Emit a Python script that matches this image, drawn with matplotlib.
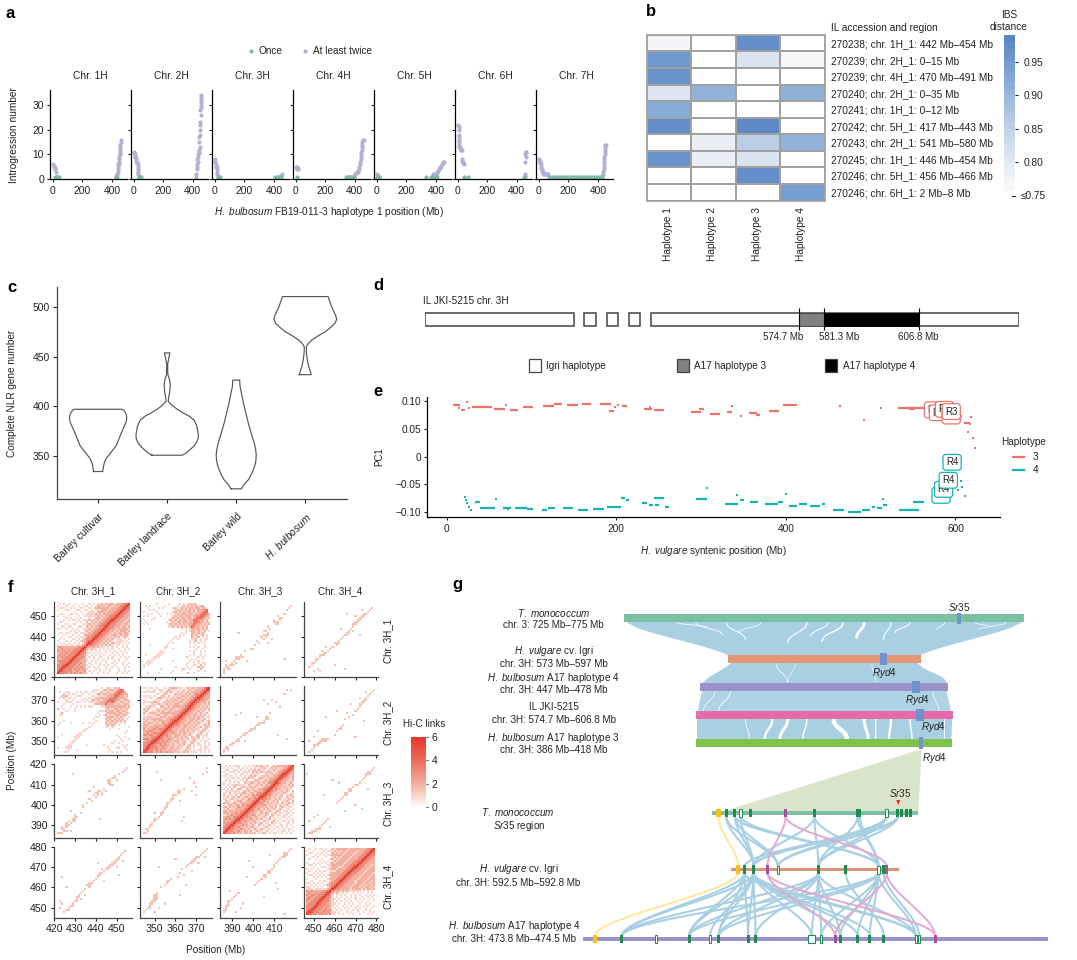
import numpy as np
import matplotlib
matplotlib.use('Agg')
import matplotlib.pyplot as plt
from matplotlib.colors import LinearSegmentedColormap, BoundaryNorm, Normalize
from matplotlib.path import Path
from matplotlib.patches import PathPatch, Rectangle, Polygon
from matplotlib.cm import ScalarMappable

plt.rcParams['font.family'] = ['Liberation Sans', 'DejaVu Sans']
plt.rcParams['mathtext.fontset'] = 'custom'
plt.rcParams['mathtext.rm'] = 'Liberation Sans'
plt.rcParams['mathtext.it'] = 'Liberation Sans:italic'
plt.rcParams['mathtext.bf'] = 'Liberation Sans:bold'
plt.rcParams['font.size'] = 7
plt.rcParams['axes.linewidth'] = 0.9

W, H = 1077, 960

# ---- panel a: (position Mb, introgression number)
chroms_a = ['Chr. 1H', 'Chr. 2H', 'Chr. 3H', 'Chr. 4H', 'Chr. 5H', 'Chr. 6H', 'Chr. 7H']
once_a = [
    [(17, 1), (22, 1), (27, 1), (32, 1), (38, 1), (44, 1), (425, 1), (432, 1)],
    [(35, 1), (40, 1), (45, 1), (48, 1)],
    [(20, 1), (25, 1), (30, 1), (35, 1), (410, 1), (418, 1), (425, 1), (432, 1), (440, 1), (447, 1)],
    [(12, 1), (340, 1), (348, 1), (355, 1), (362, 1), (370, 1), (378, 1), (385, 1), (392, 1)],
    [(3, 1), (8, 1), (12, 1), (15, 1), (335, 1), (365, 1), (375, 1), (385, 1), (395, 1), (405, 1)],
    [(45, 1), (70, 1), (452, 1)],
    [(70, 1), (82, 1), (94, 1), (106, 1), (118, 1), (130, 1), (142, 1), (154, 1), (166, 1), (178, 1), (190, 1),
     (202, 1), (214, 1), (226, 1), (238, 1), (250, 1), (262, 1), (274, 1), (286, 1), (298, 1), (310, 1), (322, 1),
     (334, 1), (346, 1), (358, 1), (370, 1), (382, 1), (394, 1), (406, 1), (418, 1), (428, 1)],
]
twice_a = [
    [(5, 6), (8, 5.5), (12, 5), (15, 4.5), (18, 4), (20, 3), (430, 1.5), (435, 2), (438, 3), (440, 4), (442, 5),
     (443, 6), (445, 6), (448, 7), (450, 8), (450, 9), (452, 10), (455, 10), (455, 11), (456, 12), (458, 13),
     (458, 14), (460, 15), (462, 16)],
    [(3, 11), (5, 10.5), (8, 10), (10, 9.5), (12, 9), (15, 8.5), (18, 8), (20, 7.5), (22, 7), (25, 6.5), (27, 6),
     (28, 5), (30, 4), (32, 3), (33, 2), (420, 1), (424, 2), (428, 4), (430, 5), (432, 6), (434, 7), (432, 8),
     (436, 9), (438, 10), (440, 10.5), (442, 11), (445, 12), (447, 13), (445, 15), (445, 17), (447, 18), (448, 20),
     (450, 22), (452, 23), (455, 26), (452, 28), (453, 29), (455, 30), (455, 31), (455, 32), (458, 33), (458, 34)],
    [(3, 8), (5, 7), (7, 6), (10, 5), (14, 5), (15, 4), (17, 3), (18, 2), (450, 1.5), (455, 2)],
    [(5, 5), (8, 4.5), (10, 4), (12, 5), (15, 4.5), (18, 4), (395, 1.5), (400, 2), (405, 2), (410, 2.5), (415, 3),
     (420, 3), (425, 3.5), (430, 4), (432, 5), (435, 6), (437, 7), (440, 8), (442, 9), (443, 10), (445, 11),
     (447, 12), (448, 13), (450, 14), (450, 15), (455, 16), (460, 16)],
    [(3, 2), (5, 1.5), (380, 2), (390, 2), (400, 2), (405, 2.5), (410, 3), (415, 3.5), (420, 4), (425, 4.5),
     (430, 5), (435, 5.5), (440, 6), (445, 6.5), (450, 7), (455, 7)],
    [(5, 22), (6, 21), (7, 20), (8, 18), (7, 17), (9, 16), (10, 15), (10, 14), (12, 13), (15, 13), (18, 12.5),
     (22, 12), (25, 12), (30, 12), (32, 8), (33, 7.5), (35, 7), (37, 6.5), (40, 6), (455, 1), (456, 1.5), (458, 2),
     (458, 7), (458, 10), (460, 9), (460, 11), (462, 11)],
    [(3, 8), (5, 7.5), (8, 7), (10, 6.5), (12, 6), (15, 5), (18, 4.5), (20, 4), (22, 3.5), (25, 3), (27, 2.5),
     (30, 2), (35, 2), (40, 2), (45, 2), (50, 2), (55, 2), (60, 2), (430, 1.5), (435, 2), (437, 3), (438, 4),
     (440, 5), (440, 6), (441, 7), (442, 8), (443, 9), (444, 10), (445, 11), (446, 12), (447, 13), (450, 14), (455, 14)],
]

# ---- panel b
ibs_labels = ['270238; chr. 1H_1: 442 Mb–454 Mb', '270239; chr. 2H_1: 0–15 Mb', '270239; chr. 4H_1: 470 Mb–491 Mb',
              '270240; chr. 2H_1: 0–35 Mb', '270241; chr. 1H_1: 0–12 Mb', '270242; chr. 5H_1: 417 Mb–443 Mb',
              '270243; chr. 2H_1: 541 Mb–580 Mb', '270245; chr. 1H_1: 446 Mb–454 Mb',
              '270246; chr. 5H_1: 456 Mb–466 Mb', '270246; chr. 6H_1: 2 Mb–8 Mb']
ibs_haps = ['Haplotype 1', 'Haplotype 2', 'Haplotype 3', 'Haplotype 4']
ibs_values = [[0.755, 0.70, 0.975, 0.70],
              [0.955, 0.70, 0.80, 0.751],
              [0.965, 0.70, 0.70, 0.70],
              [0.795, 0.905, 0.70, 0.91],
              [0.92, 0.70, 0.70, 0.70],
              [0.975, 0.70, 0.985, 0.70],
              [0.70, 0.77, 0.85, 0.905],
              [0.965, 0.77, 0.80, 0.70],
              [0.70, 0.70, 0.975, 0.70],
              [0.70, 0.70, 0.70, 0.945]]

# ---- panel c: (complete NLR number, half width in category units)
violin_names = ['Barley cultivar', 'Barley landrace', 'Barley wild', r'$\mathit{H.\ bulbosum}$']
violin_a = [(334, .068), (336, .07), (340, .08), (344, .095), (347, .115), (351, .16), (355, .205), (360, .26), (365, .29),
            (372, .33), (376, .355), (380, .38), (384, .405), (388, .415), (391, .41), (394, .39), (396, .37), (397, .345)]
violin_b = [(350.5, .22), (352, .26), (356, .33), (360, .39), (364, .43), (368, .45), (372, .45), (376, .44), (380, .43),
            (386, .39), (390, .32), (393, .24), (397, .145), (401, .07), (405, .015), (408, .02), (414, .035), (422, .045),
            (428, .03), (432, .01), (442, .006), (449, .024), (454, .04)]
violin_c = [(316.5, .075), (320, .105), (326, .18), (332, .225), (339, .265), (345, .285), (351, .29), (357, .28), (363, .26),
            (372, .22), (383, .175), (393, .14), (403, .105), (412, .08), (420, .055), (426.5, .05)]
violin_d = [(432, .087), (436, .07), (440, .05), (446, .032), (452, .02), (456, .015), (460.4, .015), (464, .05), (467, .095),
            (471, .18), (475.5, .29), (480, .37), (484, .43), (488, .455), (492, .44), (495.6, .415), (501, .38), (507, .35), (511, .33)]

# ---- panel d: Mb coordinates of the bar
igri_blocks = [(474.3, 514.2), (517.1, 520.1), (523.1, 526.1), (529.1, 532.1), (535.1, 633.8)]
hap_marks = [574.7, 581.3, 606.8]

# ---- panel e: (start Mb, end Mb, PC1)
seg_hap3 = [(7, 16, .093), (30, 53, .0886), (56, 69, .085), (75, 84, .084), (90, 102, .09), (113, 126, .0916), (126, 136, .0946),
            (142, 155, .092), (159, 170, .094), (181, 194, .094), (191, 197, .0826), (207, 213, .091), (233, 242, .085),
            (244, 256, .0844), (288, 300, .08), (298, 303, .086), (311, 322, .076), (330, 337, .081), (357, 366, .079),
            (365, 370, .074), (380, 392, .0826), (397, 413, .0934), (532, 566, .0874), (545, 552, .085), (595, 608, .073), (610, 617, .06)]
dots_hap3 = [(14, .087), (18, .084), (20, .083), (24, .0976), (26, .087), (70, .092), (347, .073), (336, .091), (240, .09),
             (202, .093), (199, .09), (464, .091), (492, .065), (512, .088), (618, .072), (617, .058), (615, .045),
             (620.6, .0335), (623, .015)]
seg_hap4 = [(33, 39, -.0815), (39, 57, -.092), (66, 76, -.092), (81, 95, -.092), (95, 102, -.0935), (112, 118, -.096), (119, 128, -.092),
            (137, 149, -.093), (155, 166, -.096), (173, 186, -.0935), (189, 205, -.09), (206, 210, -.075), (211, 215, -.078),
            (230, 236, -.083), (239, 243, -.087), (246, 250, -.087), (244, 256, -.074), (257, 262, -.09), (294, 307, -.0755),
            (328, 344, -.0856), (346, 351, -.078), (358, 367, -.081), (375, 391, -.0844), (391, 396, -.082), (404, 413, -.0886),
            (416, 425, -.085), (428, 440, -.088), (442, 446, -.086), (455, 469, -.096), (473, 489, -.099), (490, 499, -.096),
            (501, 505, -.09), (507, 513, -.093), (515, 519, -.087), (533, 557, -.095), (550, 563, -.081)]
dots_hap4 = [(21, -.072), (23, -.078), (24, -.084), (26, -.09), (28, -.095), (58, -.076), (72, -.094), (342, -.069), (307, -.057),
             (400, -.068), (514, -.076), (611, -.07), (608, -.054), (603, -.06), (606, -.044), (600, -.048), (574, -.075)]
r3_labels = [(574, .084), (580, .079), (587, .085), (595, .073), (595, .081)]
r4_labels = [(583, -.0695), (586, -.0587), (591.5, -.0425), (596, -.0102)]

# ---- panel f: triangular rows of the diagonal panels, bottom row first, each starts on the diagonal
hic_chr = ['Chr. 3H_1', 'Chr. 3H_2', 'Chr. 3H_3', 'Chr. 3H_4']
hic_start = [421.5, 344.5, 385.5, 446.5]
hic_bins = [35, 32, 34, 33]
hic_11 = ["64333232322322101001001010001001010", "6433332232223010100101001000100101", "643332323232100010100101000100100",
          "64333232322010101000100101000101", "6433323222101000101010010001010", "643332322010010100100101001001",
          "64333222101010010100010100100", "6433322100101001010100100010", "643332010100110010100010101",
          "64332101010101001010101000", "6433110101010100101001010", "643101010100101010010100",
          "64212110101010100100101", "6322212111010101001010", "6433221212121011010101", "643322121202111101010",
          "64332212121011110101", "6433221212011101010", "643322121212012101", "64332212221212211", "6433221212212212",
          "643322121222122", "64332212222212", "6433222122122", "643322212212", "64332221222", "6433222122", "643322212",
          "64332221", "6433222", "643322", "64332", "6433", "643", "64"]
hic_22 = ["64333232322322212112120111010101", "6433232322122121101211010110101", "643332232212212110121010010110",
          "64322323221211212012010110101", "6433323221212112101210100101", "643232322122112101121010110",
          "64332232212121120121101001", "6432322122121210211201010", "643322122212112101210110", "64322321212212110121010",
          "6433221222121120112101", "643222122121212101210", "64322212212121120121", "6433212221212101212",
          "643222122121210112", "64322212212112012", "6432212221211201", "643222121212011", "64322122121201", "6432212121120",
          "643221212101", "64322121212", "6432212121", "643221212", "64322212", "6433221", "643222", "64322", "6432", "643", "65", "6"]
hic_33 = ["6433232221221212011210101100101010", "643322321221201211011010010110101", "64332232212112102101101001010110",
          "6432322121221110121010110101001", "643223221121021101201001101010", "64332221212112011021101001101",
          "6432322122110211012010110101", "643222321212011201101001011", "64332212211210211010110100",
          "6432232121121021011011010", "643222112122011201101101", "64332212111210121011010", "6432231212112102101101",
          "643222121121201210110", "64322321211202112101", "6433212121120211211", "642322112120112102", "64332211212011211",
          "6432212112102112", "643321211201121", "64322121121011", "6432211212102", "642322112110", "64322121121",
          "6432211212", "643221121", "64322112", "6432212", "643212", "64322", "6432", "643", "64", "6"]
hic_44 = ["643332332323110101001010010001010", "64333233232110100010100100100101", "6433323323101010010010100010100",
          "643332322010100101001010010010", "64333232101001010100100101001", "6433322110100101010010010100",
          "643332101010010100101001001", "64332110100101001010100101", "6433101010010101001001010",
          "643101010100101010010101", "64212101010010101001010", "6322212121111110101010", "643322222122221212212",
          "64332222122212122121", "6433222212221212212", "643322221222122122", "64332221222212212", "6433222122221222",
          "643322212222122", "64332221222212", "6433222122221", "643322212222", "64332221222", "6433222122", "643322212",
          "64332222", "6433222", "643322", "64332", "6433", "643", "64", "6"]
# panel (1, 2): rows bottom to top, one digit per Mb, '.' is empty
hic_12 = ["..1....1.....1.......2..1.......", "..............1...1.......1..1..", "........1.........12..1....2....",
          "1..............1.....1.1..212...", "1.1.................1...11.2.1..", ".111.................1..1.1.11..",
          "..111.........1.......1.1.1.....", "....11.................1.1..1...", ".....111............11....1.1...",
          ".1....111.............1.1..1.1..", ".......111..............1..1....", "........11............1.1..1.1..",
          "..........1...1..........1..1...", "..........11..........1.1.1..1..", "...1.......1.............1...1..",
          "............1.1.......1.1.1.1...", ".............1........1.12.1.1..", "..............1.1......112.1.11.",
          "...............1.1.....2112.1.1.", ".................1.1...212112.1.", "..................1.1..2212121..",
          "....................1.12212112.1", "...1..............1.1.122221212.", "............1121212121243221212",
          "1.1.........12121212122243221212", ".1.........1.1212212212234322121", "1...1.......1212121221224432212",
          ".....1.......1212122122123443212", "1.1.....1.....121221222122344321", "..1.1..1...1.1.12122212212234432",
          "1.....1.......12121212212122344", "...1.1.........1212121212122234", "..1....1.1....12.1212122122122",
          ".1.1......1.....1.12121212122", "......1.....1....1.1.12121"]
# sparse panels: (x Mb, y Mb), mirrored for the panel across the diagonal
hic_13 = [(386, 423), (387, 426), (388, 425), (389, 426), (390, 427), (391, 426), (392, 429), (393, 429), (393, 430), (394, 431),
          (395, 430), (387, 428), (386, 421), (397, 428), (399, 434), (400, 434), (401, 436), (403, 437), (405, 439), (406, 440),
          (407, 441), (406, 443), (408, 444), (405, 443), (404, 440), (407, 445), (402, 438), (411, 446), (412, 447), (413, 448),
          (414, 449), (412, 450), (415, 451), (416, 453), (417, 454), (418, 455), (410, 448), (393, 442), (415, 429), (407, 437),
          (409, 439), (392, 427), (389, 424), (396, 433), (410, 447), (388, 424), (390, 426), (392, 430), (394, 430), (406, 441),
          (405, 441), (407, 442), (411, 447), (412, 446), (413, 449), (386, 424), (387, 425), (391, 428)]
hic_14 = [(448, 425), (449, 426), (450, 427), (451, 428), (452, 429), (453, 430), (454, 431), (455, 431), (456, 432), (457, 433),
          (450, 423), (452, 424), (454, 433), (458, 434), (459, 435), (460, 437), (461, 436), (462, 438), (463, 439), (464, 440),
          (465, 441), (466, 441), (467, 442), (468, 444), (469, 445), (470, 446), (471, 447), (472, 448), (473, 449), (474, 450),
          (475, 451), (476, 452), (477, 453), (478, 454), (466, 451), (470, 450), (472, 441), (460, 426), (465, 424), (456, 435),
          (463, 444), (473, 453), (469, 443), (453, 423), (449, 427), (451, 429), (453, 431), (455, 432), (462, 437), (461, 437),
          (467, 443), (466, 442), (471, 448), (472, 449), (473, 450), (474, 451), (470, 447), (469, 446)]
hic_23 = [(385, 345), (386, 346), (387, 347), (388, 346), (389, 348), (390, 349), (391, 349), (392, 350), (393, 351), (394, 352),
          (395, 353), (396, 353), (397, 354), (398, 355), (399, 355), (400, 356), (401, 357), (402, 358), (403, 358), (404, 359),
          (405, 360), (406, 361), (407, 362), (408, 364), (392, 363), (394, 364), (407, 368), (409, 370), (411, 369), (413, 367),
          (415, 373), (416, 375), (418, 375), (405, 370), (412, 353), (416, 351), (396, 350), (402, 362), (386, 345), (388, 347),
          (390, 348), (393, 350), (396, 354), (399, 356), (401, 356), (403, 359), (405, 359), (406, 362), (407, 361)]
hic_24 = [(448, 345), (449, 346), (450, 347), (451, 348), (452, 349), (453, 349), (454, 350), (455, 350), (456, 351), (457, 351),
          (450, 352), (452, 355), (448, 350), (460, 353), (461, 355), (462, 356), (463, 357), (464, 358), (465, 361), (467, 362),
          (469, 363), (470, 365), (471, 366), (472, 367), (473, 368), (474, 369), (475, 370), (476, 372), (477, 373), (478, 374),
          (479, 375), (475, 374), (466, 364), (461, 365), (456, 362), (470, 352), (474, 360), (468, 368), (472, 371), (453, 350),
          (454, 351), (455, 351), (456, 350), (452, 348), (450, 348), (472, 368), (473, 369), (474, 370), (475, 371), (463, 356)]
hic_34 = [(448, 385), (449, 386), (450, 387), (451, 387), (452, 388), (453, 389), (454, 390), (455, 391), (456, 392), (457, 393),
          (448, 392), (450, 394), (452, 395), (458, 389), (461, 401), (462, 402), (463, 403), (464, 404), (465, 405), (466, 406),
          (467, 407), (468, 408), (469, 409), (470, 410), (471, 410), (472, 411), (473, 412), (474, 413), (475, 414), (476, 415),
          (477, 416), (478, 417), (479, 418), (447, 415), (462, 411), (455, 405), (470, 400), (473, 398), (465, 397), (459, 412), (476, 408),
          (449, 387), (451, 388), (453, 388), (465, 406), (466, 405), (467, 408), (468, 407), (476, 416), (477, 415), (475, 415)]

# ---- panel g, link pairs read from the schematic (gene positions along each bar)
top_genes = [724, 746, 786, 947, 1056, 1062, 1158, 1168, 1181, 1189]
top_hollow = [760, 1129]
top_purple = [874]
mid_genes = [770, 793, 957, 1026, 1122]
mid_hollow = [855, 1109]
mid_purple = [828, 1130]
low_genes = [460, 630, 705, 779, 798, 1012, 1056, 1087, 1122]
low_hollow = [547, 683, 964, 1203, 1212]
low_purple = [999, 1252]
links_top = [(724, 793), (746, 793), (760, 793), (746, 855), (724, 855), (760, 1109), (746, 1109), (947, 793), (947, 957), (947, 1109),
             (1056, 957), (1062, 1109), (1056, 1109), (1129, 793), (1129, 957), (1158, 770), (1158, 793), (1158, 957), (1158, 855), (1129, 855)]
links_low = [(770, 460), (793, 460), (957, 460), (1109, 460), (770, 630), (793, 630), (957, 630), (1109, 630), (770, 705), (793, 705),
             (957, 705), (1109, 705), (793, 683), (793, 779), (770, 779), (793, 798), (957, 798), (793, 940), (793, 1012), (793, 1056),
             (793, 1087), (793, 1203), (770, 1203), (957, 964), (957, 940), (957, 1203), (957, 1012), (1026, 1122), (1109, 1012),
             (1109, 1056), (1109, 1087), (1109, 1203), (1109, 964), (1122, 1212)]
pink_top = [(874, 1130), (874, 828)]
pink_low = [(828, 1252), (828, 999), (1130, 999), (1130, 1252)]

fig = plt.figure(figsize=(W / 100, H / 100), dpi=100)


def ax_px(x0, y0, x1, y1, **kw):
    return fig.add_axes([x0 / W, 1 - y1 / H, (x1 - x0) / W, (y1 - y0) / H], **kw)


over = fig.add_axes([0, 0, 1, 1], zorder=5)
over.set_xlim(0, W)
over.set_ylim(H, 0)
over.axis('off')
over.patch.set_alpha(0)


def put(x, y, s, ha='center', va='center', **kw):
    kw.setdefault('color', '#222222')
    return over.text(x, y, s, ha=ha, va=va, **kw)


def style(ax, tick=2.5, size=7.4):
    ax.spines['top'].set_visible(False)
    ax.spines['right'].set_visible(False)
    ax.tick_params(length=tick, width=0.8, pad=2, labelsize=size, colors='#222222')


for letter, x, y in [('a', 10, 13), ('b', 651, 12), ('c', 12, 287), ('d', 378, 285), ('e', 378, 391), ('f', 10, 587), ('g', 457, 585)]:
    put(x, y, letter, fontsize=12, fontweight='bold', color='black')

# panel a
once_color = '#7DBBAD'
twice_color = '#B4B0D2'
spine_a = [50.2, 131, 212.2, 293, 374.3, 455.1, 536.3]
for i, name in enumerate(chroms_a):
    ax = ax_px(spine_a[i], 90, spine_a[i] + 76.5, 179.3)
    ax.scatter(*zip(*twice_a[i]), s=9, color=twice_color, linewidths=0, clip_on=False)
    ax.scatter(*zip(*once_a[i]), s=9, color=once_color, linewidths=0, clip_on=False)
    ax.set_xlim(-17, 500)
    ax.set_ylim(0, 36)
    ax.set_xticks([0, 200, 400])
    ax.set_yticks([0, 10, 20, 30])
    style(ax)
    if i > 0:
        ax.set_yticklabels([])
    put(spine_a[i] + 40, 76.3, name, fontsize=7.4)
put(14.3, 135, 'Introgression number', rotation=90, fontsize=7.3)
put(329.4, 212, r'$\mathit{H.\ bulbosum}$ FB19-011-3 haplotype 1 position (Mb)', fontsize=7.2)
over.scatter([251], [50.7], s=9, color=once_color, linewidths=0)
over.scatter([304.5], [50.7], s=9, color=twice_color, linewidths=0)
put(258.8, 50.7, 'Once', ha='left', fontsize=7.2)
put(313, 50.7, 'At least twice', ha='left', fontsize=7.2)

# panel b
ibs_cmap = LinearSegmentedColormap.from_list('ibs', ['#F6F7F9', '#C8D8EA', '#8EB1DA', '#5A86C5'])
ibs_cmap.set_under('white')
ibs_norm = Normalize(0.75, 0.99)
ax = ax_px(646.7, 34.7, 825, 200.7)
ax.pcolormesh(np.array(ibs_values), cmap=ibs_cmap, norm=ibs_norm, edgecolors='#A0A0A0', linewidth=1.2)
ax.set_ylim(10, 0)
ax.set_xlim(0, 4)
ax.set_xticks([])
ax.set_yticks([])
for s in ax.spines.values():
    s.set_color('#A0A0A0')
    s.set_linewidth(1.2)
for i, lab in enumerate(ibs_labels):
    put(831, 44.3 + i * 16.5, lab, ha='left', fontsize=7.25)
for x, lab in zip([668.3, 712.3, 757, 801], ibs_haps):
    put(x, 207, lab, rotation=90, va='top', fontsize=7.25)
put(831, 28.3, 'IL accession and region', ha='left', fontsize=7.25)
put(1009, 14.7, 'IBS', fontsize=7.25)
put(1009, 26.7, 'distance', fontsize=7.25)
cax = ax_px(1004.3, 35, 1015, 190.7)
levels = [.7577, .77, .78, .79, .80, .81, .82, .83, .84, .85, .86, .87, .88, .89, .90, .91, .92, .93, .94, .95, .96, .97, .98, .99]
cb = fig.colorbar(ScalarMappable(norm=BoundaryNorm(levels, 256), cmap=ibs_cmap), cax=cax, ticks=[.80, .85, .90, .95],
                  spacing='proportional', drawedges=False)
cb.outline.set_visible(False)
cb.ax.minorticks_off()
cb.ax.set_yticks([.80, .85, .90, .95])
cb.ax.set_yticklabels(['0.80', '0.85', '0.90', '0.95'])
cb.ax.tick_params(length=2, width=0.8, pad=4, labelsize=7.25, colors='#222222')
over.plot([1012, 1015], [196, 196], color='#222222', lw=0.8)
put(1020.7, 196, '≤0.75', ha='left', fontsize=7.25)

# panel c
ax = ax_px(56.7, 286.7, 346.7, 499)
for pos, v in enumerate([violin_a, violin_b, violin_c, violin_d]):
    ys, hw = np.array(v).T
    xs = np.concatenate([pos - hw, (pos + hw)[::-1], [pos - hw[0]]])
    yy = np.concatenate([ys, ys[::-1], [ys[0]]])
    ax.plot(xs, yy, color='#555555', lw=0.85)
ax.set_xlim(-0.6, 3.6)
ax.set_ylim(306.2, 521)
ax.set_yticks([350, 400, 450, 500])
ax.set_xticks(range(4))
ax.set_xticklabels(violin_names, rotation=45, ha='right', rotation_mode='anchor', fontsize=7.3)
style(ax, 3, 7.5)
ax.tick_params(axis='x', pad=6, labelsize=7.3)
ax.spines['left'].set_color('#444444')
ax.spines['bottom'].set_color('#444444')
put(12, 393, 'Complete NLR gene number', rotation=90, fontsize=7.2)

# panel d
ax = ax_px(424.9, 305, 1019.1, 335)
ax.set_xlim(igri_blocks[0][0], igri_blocks[-1][1])
ax.set_ylim(1, 0)
ax.axis('off')
for a, b in igri_blocks:
    ax.add_patch(Rectangle((a, 0.277), b - a, 0.413, fc='white', ec='#444444', lw=1.1))
ax.add_patch(Rectangle((hap_marks[0], 0.277), hap_marks[1] - hap_marks[0], 0.413, fc='#808080', ec='#444444', lw=0.6))
ax.add_patch(Rectangle((hap_marks[1], 0.277), hap_marks[2] - hap_marks[1], 0.413, fc='black', ec='black', lw=0.6))
ax.vlines(hap_marks, 0.1, 0.85, color='black', lw=0.8)
for x, lab in zip([783, 838.8, 917.8], ['574.7 Mb', '581.3 Mb', '606.8 Mb']):
    put(x, 337.3, lab, fontsize=7)
put(422.7, 300.7, 'IL JKI-5215 chr. 3H', ha='left', fontsize=7.2)
for x, c, lab in zip([528.9, 677, 825.4], ['white', '#808080', 'black'], ['Igri haplotype', 'A17 haplotype 3', 'A17 haplotype 4']):
    over.add_patch(Rectangle((x, 359), 11.6, 12.7, fc=c, ec='#444444', lw=0.9))
    put(x + 17.4, 365.7, lab, ha='left', fontsize=7.2)

# panel e
red = '#E8746C'
teal = '#16B3B3'
ax = ax_px(427.1, 397.3, 1000.4, 517.3)
for a, b, v in seg_hap3:
    ax.plot([a, b], [v, v], color=red, lw=1.6, solid_capstyle='butt')
for a, b, v in seg_hap4:
    ax.plot([a, b], [v, v], color=teal, lw=1.6, solid_capstyle='butt')
ax.scatter(*zip(*dots_hap3), s=2.8, color=red, marker='s', linewidths=0)
ax.scatter(*zip(*dots_hap4), s=2.8, color=teal, marker='s', linewidths=0)
for x, y in r3_labels:
    ax.text(x, y, 'R3', ha='center', va='center', fontsize=7, color='#222222', zorder=6,
            bbox=dict(boxstyle='round,pad=0.3', fc='white', ec=red, lw=0.9))
for x, y in r4_labels:
    ax.text(x, y, 'R4', ha='center', va='center', fontsize=7, color='#222222', zorder=6,
            bbox=dict(boxstyle='round,pad=0.3', fc='white', ec=teal, lw=0.9))
ax.set_xlim(-23.2, 653)
ax.set_ylim(-0.109, 0.1066)
ax.set_xticks([0, 200, 400, 600])
ax.set_yticks([-.10, -.05, 0, .05, .10])
ax.set_yticklabels(['−0.10', '−0.05', '0', '0.05', '0.10'])
style(ax, 2.5, 7.3)
put(379, 457, 'PC1', rotation=90, fontsize=7)
put(713, 551, r'$\mathit{H.\ vulgare}$ syntenic position (Mb)', fontsize=7.1)
put(1000.8, 441.7, 'Haplotype', ha='left', fontsize=7.2)
over.plot([1012.9, 1024], [456.7, 456.7], color=red, lw=1.6)
over.plot([1012.9, 1024], [470.3, 470.3], color=teal, lw=1.6)
put(1032.5, 456.7, '3', ha='left', fontsize=7.2)
put(1032.5, 470.3, '4', ha='left', fontsize=7.2)

# panel f
hic_cmap = LinearSegmentedColormap.from_list('hic', ['#FFFFFF', '#F9D5CB', '#F3B0A0', '#EE8D7B', '#EB6B5C', '#E9503F', '#E73530'])
col_px = [(54, 131.7), (140.3, 211.7), (220.3, 296), (304.3, 377.7)]
row_px = [(601.7, 677.3), (686, 755.3), (764.3, 837.7), (846.7, 917.7)]
col_lim = [(420, 457.2), (343.2, 377.3), (384.3, 420.5), (445.5, 480.6)]
row_lim = [(420, 457.2), (343.2, 377), (383.7, 420), (445, 480)]
col_ticks = [[420, 430, 440, 450], [350, 360, 370], [390, 400, 410], [450, 460, 470, 480]]
row_ticks = [[420, 430, 440, 450], [350, 360, 370], [390, 400, 410, 420], [450, 460, 470, 480]]
diag_rows = [hic_11, hic_22, hic_33, hic_44]
sparse = {(0, 2): hic_13, (0, 3): hic_14, (1, 2): hic_23, (1, 3): hic_24, (2, 3): hic_34}


def hic_matrix(r, c):
    m = np.zeros((hic_bins[r], hic_bins[c]))
    if r == c:
        for i, row in enumerate(diag_rows[r]):
            for k, ch in enumerate(row):
                if i + k < hic_bins[r]:
                    m[i, i + k] = m[i + k, i] = float(ch)
    elif (r, c) in [(0, 1), (1, 0)]:
        for i, row in enumerate(hic_12):
            for k, ch in enumerate(row[:hic_bins[1]]):
                if ch != '.':
                    if r == 0:
                        m[i, k] = float(ch)
                    else:
                        m[k, i] = float(ch)
    else:
        pts = sparse[(min(r, c), max(r, c))]
        for x, y in pts:
            if r > c:
                x, y = y, x
            m[int(y - hic_start[r]), int(x - hic_start[c])] = 1.5
    return m


for r in range(4):
    for c in range(4):
        ax = ax_px(col_px[c][0], row_px[r][0], col_px[c][1], row_px[r][1])
        xe = hic_start[c] + np.arange(hic_bins[c] + 1)
        ye = hic_start[r] + np.arange(hic_bins[r] + 1)
        ax.pcolormesh(xe, ye, hic_matrix(r, c), cmap=hic_cmap, vmin=0, vmax=6)
        ax.set_xlim(*col_lim[c])
        ax.set_ylim(*row_lim[r])
        ax.set_xticks(col_ticks[c])
        ax.set_yticks(row_ticks[r])
        style(ax, 2.5, 7.6)
        ax.spines['left'].set_color('#444444')
        ax.spines['bottom'].set_color('#444444')
        if r < 3:
            ax.set_xticklabels([])
        if c > 0:
            ax.set_yticklabels([])
for x, name in zip([93, 177.7, 260, 340], hic_chr):
    put(x, 590.7, name, fontsize=7.1)
for y, name in zip([640.7, 722.7, 804.3, 886.7], hic_chr):
    put(388, y, name, rotation=90, fontsize=7.1)
put(216, 949.7, 'Position (Mb)', fontsize=7.2)
put(11.7, 760, 'Position (Mb)', rotation=90, fontsize=7.2)
put(424, 724, 'Hi-C links', fontsize=7.1)
cax = ax_px(411, 737, 425.7, 807.3)
cb = fig.colorbar(ScalarMappable(norm=Normalize(0, 6), cmap=hic_cmap), cax=cax, ticks=[0, 2, 4, 6])
cb.outline.set_visible(False)
cb.ax.tick_params(length=1.5, width=0.6, pad=3, labelsize=7.4, colors='#222222')


# panel g
def gx(zx):
    return 470 + zx / 2.613


def sx(zx):
    return 440 + zx / 2.529


def ribbon(left, right, color):
    verts = left + right[::-1] + [left[0]]
    codes = [Path.MOVETO, Path.CURVE4, Path.CURVE4, Path.CURVE4, Path.LINETO, Path.CURVE4, Path.CURVE4, Path.CURVE4, Path.CLOSEPOLY]
    over.add_patch(PathPatch(Path(verts, codes), fc=color, ec='none', zorder=1))


def s_curve(x1, y1, x2, y2, color, lw, z=2, bend=0.5):
    h = (y2 - y1) * bend
    p = Path([(x1, y1), (x1, y1 + h), (x2, y2 - h), (x2, y2)], [Path.MOVETO, Path.CURVE4, Path.CURVE4, Path.CURVE4])
    over.add_patch(PathPatch(p, fc='none', ec=color, lw=lw, zorder=z, capstyle='butt'))


ribbon_c = '#A9CFE3'
ribbon([(627, 622), (640, 634), (700, 642), (730, 656)], [(1022, 622), (1005, 634), (950, 642), (918, 656)], ribbon_c)
ribbon([(732, 662), (725, 670), (708, 675), (702, 684)], [(917, 662), (925, 674), (944, 672), (947, 684)], ribbon_c)
ribbon([(703, 690), (700, 697), (699, 704), (698, 712)], [(946, 690), (948, 697), (950, 704), (951, 712)], '#AFD2E5')
ribbon([(697, 718), (697, 724), (697, 734), (697, 740)], [(952, 718), (952, 724), (952, 734), (951, 740)], ribbon_c)

white_streaks = [(540, 97, 620, 112, .5), (590, 97, 660, 135, .6), (670, 97, 720, 150, .7), (760, 97, 700, 130, .5), (880, 97, 830, 160, .8),
                 (935, 97, 890, 140, .7), (975, 97, 920, 155, 1), (1030, 97, 1010, 145, 2), (1100, 97, 1080, 150, .8), (1150, 97, 1110, 130, .7),
                 (1240, 97, 1220, 120, .6), (1320, 97, 1360, 112, .5), (1400, 97, 1330, 120, .5), (800, 219, 830, 279, .5), (850, 219, 830, 279, .4),
                 (1050, 219, 1060, 279, .4), (680, 303, 650, 364, .6), (640, 303, 610, 364, .5), (1210, 303, 1225, 364, .5),
                 (790, 387, 770, 448, 1.6), (830, 387, 810, 448, 2.2), (880, 387, 870, 448, 1), (950, 387, 985, 448, 3), (1030, 387, 1040, 448, 2.2),
                 (1100, 387, 1095, 448, 1.6), (1060, 387, 1060, 448, 1), (1150, 387, 1155, 448, 1), (720, 387, 730, 448, .6), (1240, 387, 1240, 448, .6)]
for x1, y1, x2, y2, lw in white_streaks:
    s_curve(gx(x1), 590 + y1 / 3, gx(x2), 590 + y2 / 3, 'white', lw)

for z0, z1, yt, yb, c in [(403, 1448, 614.3, 622.3, '#7CC0A4'), (673, 1178, 655, 663, '#E39873'), (600, 1250, 683, 691, '#9B93C8'),
                          (590, 1262, 711.3, 719, '#E56CA8'), (590, 1260, 739.3, 747, '#7DC24B')]:
    over.add_patch(Rectangle((gx(z0), yt), gx(z1) - gx(z0), yb - yt, fc=c, ec='none', zorder=3))
for z0, z1, yt, yb in [(1273, 1283, 612.7, 624), (1072, 1090, 653.3, 665), (1156, 1175, 681.3, 693),
                       (1166, 1185, 709.3, 721), (1172, 1184, 737.3, 749)]:
    over.add_patch(Rectangle((gx(z0), yt), gx(z1) - gx(z0), yb - yt, fc='#6F93CF', ec='none', zorder=4))
for x, y, lab in [(959, 607, 'Sr35'), (884.5, 673, 'Ryd4'), (917, 700.3, 'Ryd4'), (933, 727.3, 'Ryd4'), (934.2, 757.7, 'Ryd4')]:
    put(x, y, '$\\mathit{%s}$' % lab, fontsize=7.1)
for y, lab in [(612.7, r'$\mathit{T.\ monococcum}$'), (624.7, 'chr. 3: 725 Mb–775 Mb'),
               (651, r'$\mathit{H.\ vulgare}$ cv. Igri'), (663.7, 'chr. 3H: 573 Mb–597 Mb'),
               (677.7, r'$\mathit{H.\ bulbosum}$ A17 haplotype 4'), (689.7, 'chr. 3H: 447 Mb–478 Mb'),
               (707.3, 'IL JKI-5215'), (719.7, 'chr. 3H: 574.7 Mb–606.8 Mb'),
               (737.7, r'$\mathit{H.\ bulbosum}$ A17 haplotype 3'), (749.7, 'chr. 3H: 386 Mb–418 Mb')]:
    put(553.8, y, lab, fontsize=7.1)

over.add_patch(Polygon([(918.5, 750), (921.6, 750), (918.4, 811), (724.7, 811)], fc='#D9E5CA', ec='none', zorder=1))

top_y, mid_y, low_y = 813, 869.7, 939
link_blue = '#A9CFE3'
for a, b in links_top:
    s_curve(sx(a), top_y + 3, sx(b), mid_y - 3, link_blue, 1.5, bend=0.35)
for a, b in links_low:
    s_curve(sx(a), mid_y + 3, sx(b), low_y - 3, link_blue, 1.5, bend=0.3)
for a, b in pink_top:
    s_curve(sx(a), top_y + 3, sx(b), mid_y - 3, '#E3A8CF', 1.4, 3, bend=0.35)
for a, b in pink_low:
    s_curve(sx(a), mid_y + 3, sx(b), low_y - 3, '#E3A8CF', 1.4, 3, bend=0.3)
s_curve(sx(704), top_y + 3, sx(754), mid_y - 3, '#FCE9A0', 1.5, bend=0.35)
s_curve(sx(754), mid_y + 3, sx(392), low_y - 3, '#FCE9A0', 1.5, bend=0.3)

for z0, z1, y, c in [(688, 1210, top_y, '#7CC0A4'), (737, 1162, mid_y, '#DE9473'), (362, 1538, low_y, '#9B93C8')]:
    over.add_patch(Rectangle((sx(z0), y - 1.7), sx(z1) - sx(z0), 3.4, fc=c, ec='none', zorder=4))

gene_green = '#1E8A4D'
gene_purple = '#A24FA0'
for y, greens, hollows, purples, yel in [(top_y, top_genes, top_hollow, top_purple, 704), (mid_y, mid_genes, mid_hollow, mid_purple, 754),
                                         (low_y, low_genes, low_hollow, low_purple, 392)]:
    for z in greens:
        over.add_patch(Rectangle((sx(z) - 1.5, y - 4.3), 3, 8.6, fc=gene_green, ec='none', zorder=5))
    for z in hollows:
        over.add_patch(Rectangle((sx(z) - 1.1, y - 4), 2.2, 8, fc='white', ec=gene_green, lw=0.7, zorder=5))
    for z in purples:
        over.add_patch(Rectangle((sx(z) - 1.5, y - 4.3), 3, 8.6, fc=gene_purple, ec='none', zorder=5))
    over.add_patch(Rectangle((sx(yel) - 2.2, y - 4.3), 4.4, 8.6, fc='#FBBF16', ec='none', zorder=5))
over.add_patch(Rectangle((sx(940) - 3.5, low_y - 3.7), 7, 7.4, fc='white', ec=gene_green, lw=0.8, zorder=5))
over.add_patch(Polygon([(sx(1154), 800), (sx(1164), 800), (sx(1159), 805)], fc='#E8262A', ec='none', zorder=5))
put(sx(1164), 793.3, r'$\mathit{Sr35}$', fontsize=7.1)
for x, y, lab in [(518, 811.7, r'$\mathit{T.\ monococcum}$'), (518.7, 825.7, r'$\mathit{Sr35}$ region'),
                  (518.7, 868.7, r'$\mathit{H.\ vulgare}$ cv. Igri'), (518.3, 882.7, 'chr. 3H: 592.5 Mb–592.8 Mb'),
                  (514.3, 925.7, r'$\mathit{H.\ bulbosum}$ A17 haplotype 4'), (514.3, 939.3, 'chr. 3H: 473.8 Mb–474.5 Mb')]:
    put(x, y, lab, fontsize=7.1)

fig.savefig('out.png', dpi=100)
